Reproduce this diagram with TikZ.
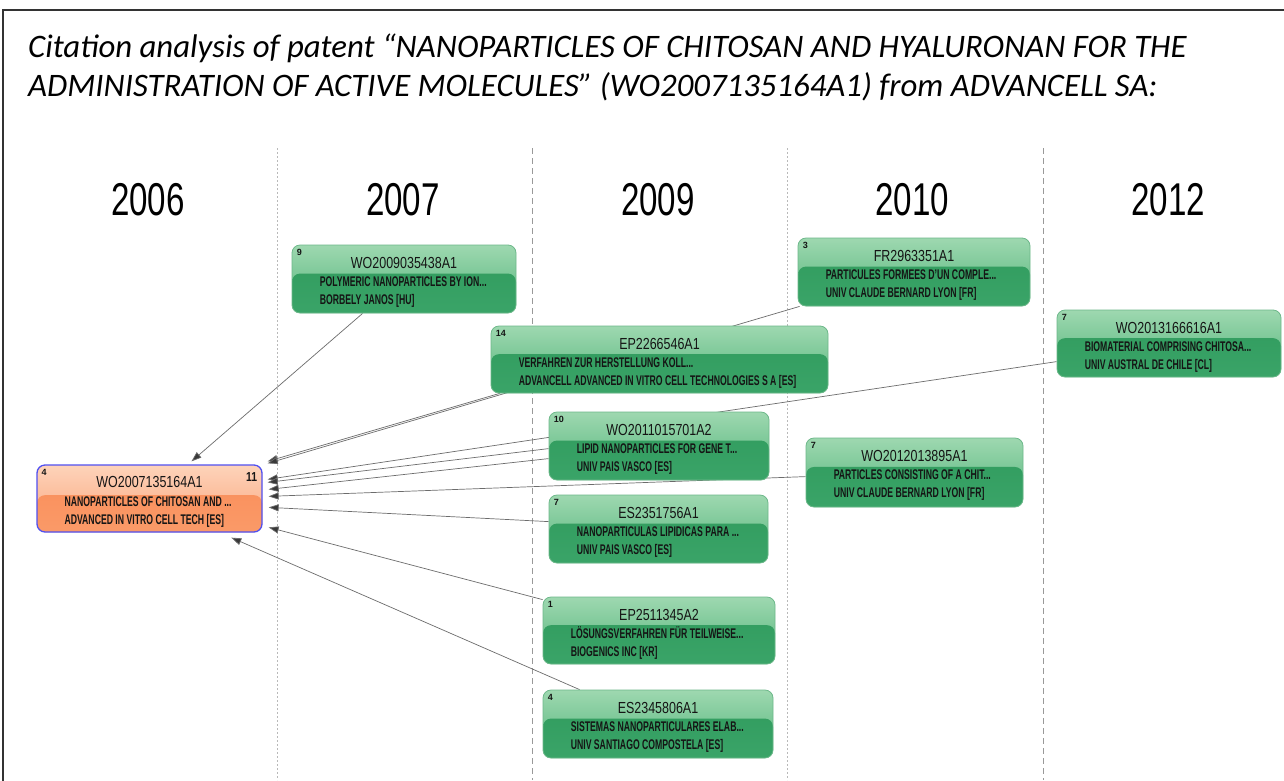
\documentclass[tikz,border=0pt]{standalone}
\usepackage{fontspec}
\setmainfont{Liberation Sans}
\newfontfamily\titlefont{Carlito}
\usetikzlibrary{arrows.meta,fit,calc,backgrounds}
\definecolor{gTop}{HTML}{9ED8B0}
\definecolor{gMid}{HTML}{52B47A}
\definecolor{gLow}{HTML}{2F9A5C}
\definecolor{gLow2}{HTML}{3AA468}
\definecolor{gEdge}{HTML}{6DB88A}
\definecolor{oTop}{HTML}{FDD3BA}
\definecolor{oMid}{HTML}{FBA57B}
\definecolor{oLow}{HTML}{F98C58}
\definecolor{oLow2}{HTML}{FA9A68}
\definecolor{oEdge}{HTML}{5050F0}
\definecolor{txt}{HTML}{151515}
\newcommand\sqz[2]{\scalebox{#1}[1]{#2}}
\tikzset{
  boxbase/.style={rounded corners=8pt, inner sep=0pt},
  greenbox/.style={boxbase, draw=gEdge, line width=0.8pt, top color=gTop, bottom color=gMid,
    path picture={\shade[top color=gLow, bottom color=gLow2]
      ($(path picture bounding box.north west)!0.42!(path picture bounding box.south west)$)
      rectangle (path picture bounding box.south east);}},
  orangebox/.style={boxbase, draw=oEdge, line width=1.3pt, top color=oTop, bottom color=oMid,
    path picture={\shade[top color=oLow, bottom color=oLow2]
      ($(path picture bounding box.north west)!0.45!(path picture bounding box.south west)$)
      rectangle (path picture bounding box.south east);}},
  idtxt/.style={inner sep=0pt, text=txt, font=\fontsize{16}{16}\selectfont},
  smalltxt/.style={inner sep=0pt, anchor=base west, text=txt, font=\fontsize{14}{14}\selectfont\bfseries},
  numtxt/.style={inner sep=0pt, anchor=base west, text=txt, font=\fontsize{9}{9}\selectfont\bfseries},
  yeartxt/.style={inner sep=0pt, text=black, font=\fontsize{46}{46}\selectfont},
  edge/.style={draw=gray!85!black, line width=0.7pt, -{Triangle[length=10pt,width=7pt,fill=gray!45!black]}},
  dotline/.style={draw=gray!55, line width=0.8pt, dash pattern=on 2pt off 2pt},
  dashline/.style={draw=gray!80, line width=0.9pt, dash pattern=on 6pt off 4pt},
}
% name, style, corner1, corner2, number, id, line2, line3
\newcommand\patent[8]{%
  \node[#2, fit={(#3)(#4)}] (#1) {};
  \node[numtxt] (#1-num) at ([shift={(5,11)}]#1.north west) {#5};
  \node[idtxt] (#1-id) at ([shift={(0,18)}]#1.north) {\sqz{0.78}{#6}};
  \node[smalltxt] (#1-l2) at ([shift={(28,42)}]#1.north west) {\sqz{0.62}{#7}};
  \node[smalltxt] (#1-l3) at ([shift={(28,60)}]#1.north west) {\sqz{0.62}{#8}};
}
\begin{document}
\begin{tikzpicture}[x=1pt,y=-1pt]
\useasboundingbox (0,0) rectangle (1284,780);
% title
\node[inner sep=0pt, anchor=base west, font=\titlefont\itshape\fontsize{32.8}{33}\selectfont] (t1) at (28,57)
  {Citation analysis of patent “NANOPARTICLES OF CHITOSAN AND HYALURONAN FOR THE};
\node[inner sep=0pt, anchor=base west, font=\titlefont\itshape\fontsize{32.8}{33}\selectfont] (t2) at (28,96)
  {ADMINISTRATION OF ACTIVE MOLECULES” (WO2007135164A1) from ADVANCELL SA:};
% years
\node[yeartxt] (y06) at (148,200) {\sqz{0.72}{2006}};
\node[yeartxt] (y07) at (403,200) {\sqz{0.72}{2007}};
\node[yeartxt] (y09) at (658,200) {\sqz{0.72}{2009}};
\node[yeartxt] (y10) at (912,200) {\sqz{0.72}{2010}};
\node[yeartxt] (y12) at (1168,200) {\sqz{0.72}{2012}};
% boxes
\patent{main}{orangebox}{37,465}{262,532}{4}{WO2007135164A1}{NANOPARTICLES OF CHITOSAN AND ...}{ADVANCED IN VITRO CELL TECH [ES]}
\node[inner sep=0pt, text=txt, font=\fontsize{13}{13}\selectfont\bfseries] (mainc) at ([shift={(-11,13)}]main.north east) {\sqz{0.8}{11}};
\patent{wo09}{greenbox}{292,245}{516,313}{9}{WO2009035438A1}{POLYMERIC NANOPARTICLES BY ION...}{BORBELY JANOS [HU]}
\patent{ep22}{greenbox}{491,326}{828,393}{14}{EP2266546A1}{VERFAHREN ZUR HERSTELLUNG KOLL...}{ADVANCELL ADVANCED IN VITRO CELL TECHNOLOGIES S A [ES]}
\patent{fr29}{greenbox}{798,238}{1030,306}{3}{FR2963351A1}{PARTICULES FORMEES D'UN COMPLE...}{UNIV CLAUDE BERNARD LYON [FR]}
\patent{wo13}{greenbox}{1057,310}{1281,377}{7}{WO2013166616A1}{BIOMATERIAL COMPRISING CHITOSA...}{UNIV AUSTRAL DE CHILE [CL]}
\patent{wo11}{greenbox}{549,412}{769,480}{10}{WO2011015701A2}{LIPID NANOPARTICLES FOR GENE T...}{UNIV PAIS VASCO [ES]}
\patent{wo12}{greenbox}{806,438}{1023,507}{7}{WO2012013895A1}{PARTICLES CONSISTING OF A CHIT...}{UNIV CLAUDE BERNARD LYON [FR]}
\patent{es23a}{greenbox}{549,495}{768,563}{7}{ES2351756A1}{NANOPARTICULAS LIPIDICAS PARA ...}{UNIV PAIS VASCO [ES]}
\patent{ep25}{greenbox}{543,597}{775,664}{1}{EP2511345A2}{LÖSUNGSVERFAHREN FÜR TEILWEISE...}{BIOGENICS INC [KR]}
\patent{es23b}{greenbox}{543,690}{773,758}{4}{ES2345806A1}{SISTEMAS NANOPARTICULARES ELAB...}{UNIV SANTIAGO COMPOSTELA [ES]}
\begin{pgfonlayer}{background}
\fill[white] (0,0) rectangle (1284,780);
\draw[line width=2pt, draw=black!80] (3,790) -- (3,10) -- (1290,10);
\coordinate (s1t) at (277,148); \coordinate (s1b) at (277,780);
\coordinate (s2t) at (532,148); \coordinate (s2b) at (532,780);
\coordinate (s3t) at (787,148); \coordinate (s3b) at (787,780);
\coordinate (s4t) at (1043,148); \coordinate (s4b) at (1043,780);
\draw[dotline] (s1t) -- (s1b);
\draw[dashline] (s2t) -- (s2b);
\draw[dotline] (s3t) -- (s3b);
\draw[dashline] (s4t) -- (s4b);
% edges
\draw[edge] ([shift={(71,0)}]wo09.south west) -- ([shift={(42,-3)}]main.north);
\draw[edge] ([shift={(9,0)}]ep22.south west) -- ([shift={(5,-3)}]main.north east);
\draw[edge] ([shift={(2,0)}]fr29.south west) -- ([shift={(5,-1)}]main.north east);
\draw[edge] ([shift={(0,52)}]wo13.north west) -- ([shift={(5,15)}]main.north east);
\draw[edge] ([shift={(0,37)}]wo11.north west) -- ([shift={(5,18)}]main.north east);
\draw[edge] ([shift={(0,47)}]wo11.north west) -- ([shift={(6,25)}]main.north east);
\draw[edge] ([shift={(0,39)}]wo12.north west) -- ([shift={(6,32)}]main.north east);
\draw[edge] ([shift={(0,27)}]es23a.north west) -- ([shift={(6,43)}]main.north east);
\draw[edge] ([shift={(0,3)}]ep25.north west) -- ([shift={(6,63)}]main.north east);
\draw[edge] ([shift={(37,0)}]es23b.north west) -- ([shift={(195,5)}]main.south west);
\end{pgfonlayer}
\end{tikzpicture}
\end{document}
